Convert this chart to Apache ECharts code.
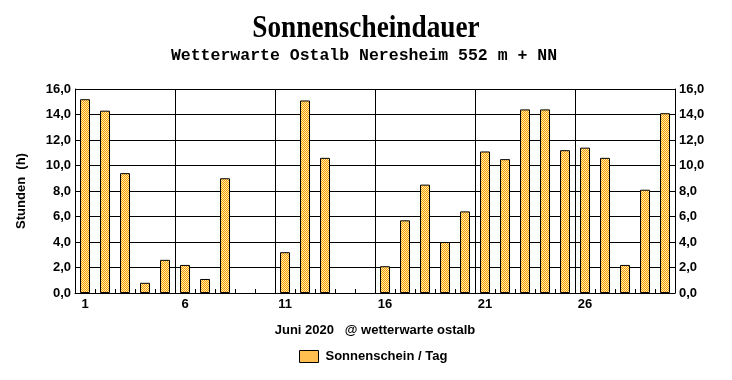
<!DOCTYPE html>
<html>
<head>
<meta charset="utf-8">
<script src="https://cdn.jsdelivr.net/npm/echarts@6/dist/echarts.min.js"></script>
<style>html,body{margin:0;padding:0;background:#fff}#c{width:732px;height:380px}</style>
</head>
<body>
<div id="c"></div>
<script>
const days = ['1','2','3','4','5','6','7','8','9','10','11','12','13','14','15','16','17','18','19','20','21','22','23','24','25','26','27','28','29','30'];
const sunshine = [15.2,14.3,9.4,0.8,2.6,2.2,1.1,9.0,0,0,3.2,15.1,10.6,0,0,2.1,5.7,8.5,4.0,6.4,11.1,10.5,14.4,14.4,11.2,11.4,10.6,2.2,8.1,14.1];
const titleText = 'Sonnenscheindauer';
const subtitleText = 'Wetterwarte Ostalb Neresheim 552 m + NN';
const yName = 'Stunden  (h)';
const xName = 'Juni 2020   @ wetterwarte ostalb';
const seriesName = 'Sonnenschein / Tag';

const pc = document.createElement('canvas');
pc.width = 2; pc.height = 2;
const px = pc.getContext('2d');
px.fillStyle = '#FFF0A8'; px.fillRect(0,0,2,2);
px.fillStyle = '#FF9900'; px.fillRect(0,0,1,1); px.fillRect(1,1,1,1);
const pattern = {image: pc, repeat: 'repeat'};

const lab = {fontFamily:'"Liberation Sans", Arial, sans-serif', fontWeight:'bold', fontSize:13, color:'#000'};
const fmt = function(v){return v.toFixed(1).replace('.',',');};
const chart = echarts.init(document.getElementById('c'), null, {renderer:'canvas'});
chart.setOption({
  animation:false,
  backgroundColor:'#fff',
  grid:{left:75, right:57, top:89, bottom:87, containLabel:false},
  graphic:[
    {type:'text', x:366, y:29, scaleX:0.88, style:{text:titleText, font:'bold 31px "Liberation Serif", "Times New Roman", serif', fill:'#000', textAlign:'center', textVerticalAlign:'middle'}},
    {type:'text', x:364, y:56, style:{text:subtitleText, font:'bold 16.5px "Liberation Mono", "Courier New", monospace', fill:'#000', textAlign:'center', textVerticalAlign:'middle'}},
    {type:'text', x:21, y:191, rotation:Math.PI/2, style:{text:yName, font:'bold 13px "Liberation Sans", Arial, sans-serif', fill:'#000', textAlign:'center', textVerticalAlign:'middle'}}
  ],
  legend:{left:294, top:345, itemWidth:19, itemHeight:12, icon:'rect',
    data:[{name:seriesName, itemStyle:{color:'#FFC050', borderColor:'#000', borderWidth:1}}],
    textStyle:Object.assign({}, lab, {padding:[0,0,0,2]})},
  xAxis:{type:'category', data:days, boundaryGap:true,
    name:xName, nameLocation:'middle', nameGap:31, nameTextStyle:lab,
    axisLine:{lineStyle:{color:'#000', width:1}},
    axisTick:{show:true, inside:true, length:4, interval:0, lineStyle:{color:'#000'}},
    axisLabel:Object.assign({}, lab, {margin:5, interval:function(i){return i%5===0;}}),
    splitLine:{show:true, interval:function(i){return i%5===0 && i>0;}, lineStyle:{color:'#000', width:1}}
  },
  yAxis:[
    {type:'value', min:0, max:16, interval:2, position:'left',
      axisLine:{show:true, lineStyle:{color:'#000'}}, axisTick:{show:false},
      axisLabel:Object.assign({}, lab, {margin:4, formatter:fmt}),
      splitLine:{show:true, lineStyle:{color:'#000', width:1}}},
    {type:'value', min:0, max:16, interval:2, position:'right',
      axisLine:{show:true, lineStyle:{color:'#000'}}, axisTick:{show:false},
      axisLabel:Object.assign({}, lab, {margin:4, formatter:fmt}),
      splitLine:{show:false}}
  ],
  series:[{type:'bar', name:seriesName, yAxisIndex:0, barWidth:10,
    data:sunshine.map(function(v){return v===0 ? {value:v, itemStyle:{borderWidth:0}} : v;}),
    itemStyle:{color:pattern, borderColor:'#000', borderWidth:1}}]
});
</script>
</body>
</html>
